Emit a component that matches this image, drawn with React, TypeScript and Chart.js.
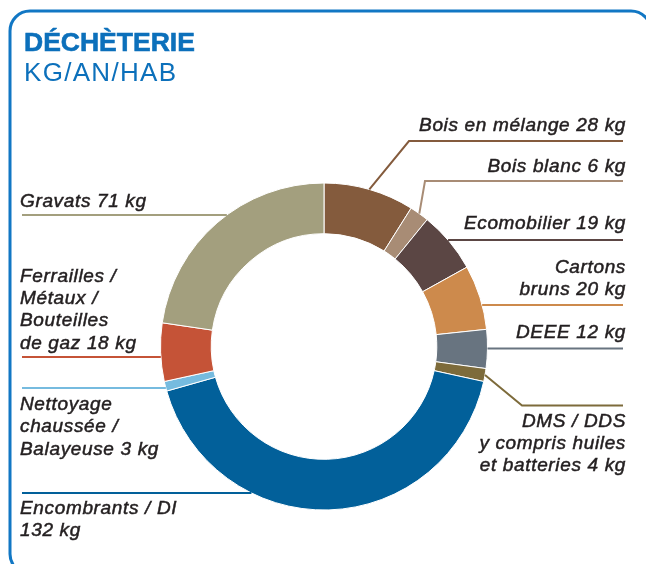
import React, { useEffect, useRef } from "react";
import { Chart, registerables } from "chart.js";

Chart.register(...registerables);

// ---------- data ----------
const categories = [
  "Bois en mélange",
  "Bois blanc",
  "Ecomobilier",
  "Cartons bruns",
  "DEEE",
  "DMS / DDS y compris huiles et batteries",
  "Encombrants / DI",
  "Nettoyage chaussée / Balayeuse",
  "Ferrailles / Métaux / Bouteilles de gaz",
  "Gravats",
];
const values = [28, 6, 19, 20, 12, 4, 132, 3, 18, 71];
const labelParts = [
  ["Bois en mélange"],
  ["Bois blanc"],
  ["Ecomobilier"],
  ["Cartons", "bruns"],
  ["DEEE"],
  ["DMS / DDS", "y compris huiles", "et batteries"],
  ["Encombrants / DI", ""],
  ["Nettoyage", "chaussée /", "Balayeuse"],
  ["Ferrailles /", "Métaux /", "Bouteilles", "de gaz"],
  ["Gravats"],
];
const unit = "kg";
const titleMain = "DÉCHÈTERIE";
const titleSub = "KG/AN/HAB";

// ---------- styles ----------
const colors = [
  "#845b3d",
  "#a88c75",
  "#5b4644",
  "#cd8a4c",
  "#687480",
  "#7d6b3b",
  "#02609a",
  "#76bbdf",
  "#c55337",
  "#a39f7e",
];
const BLUE = "#0c70bb";
const TEXT = "#231f20";

// label layout: side, first baseline, leader y, optional elbow (diagonal from slice middle)
const layout: { side: "L" | "R"; ty: number; lineY: number; elbowX?: number }[] = [
  { side: "R", ty: 130.5, lineY: 141, elbowX: 409 },
  { side: "R", ty: 171.5, lineY: 181, elbowX: 425 },
  { side: "R", ty: 229, lineY: 240 },
  { side: "R", ty: 272.5, lineY: 305 },
  { side: "R", ty: 338, lineY: 348.5 },
  { side: "R", ty: 426.5, lineY: 405.5, elbowX: 522 },
  { side: "L", ty: 513.5, lineY: 493 },
  { side: "L", ty: 410, lineY: 388 },
  { side: "L", ty: 281.5, lineY: 357 },
  { side: "L", ty: 206.5, lineY: 215 },
];

const W = 646;
const H = 564;

const decorPlugin = {
  id: "decor",
  afterDraw(chart: any) {
    const ctx = chart.ctx as CanvasRenderingContext2D;
    const meta = chart.getDatasetMeta(0);
    ctx.save();

    // frame
    ctx.strokeStyle = "#1177c4";
    ctx.lineWidth = 3;
    ctx.beginPath();
    const x0 = 10, y0 = 11, x1 = 651, y1 = 574, r = 20;
    ctx.moveTo(x0, y1 - r);
    ctx.lineTo(x0, y0 + r);
    ctx.arcTo(x0, y0, x0 + r, y0, r);
    ctx.lineTo(x1 - r, y0);
    ctx.arcTo(x1, y0, x1, y0 + r, r);
    ctx.lineTo(x1, y1 - r);
    ctx.moveTo(x0, y1 - r);
    ctx.arcTo(x0, y1, x0 + r, y1, r);
    ctx.stroke();

    // title
    ctx.fillStyle = BLUE;
    ctx.strokeStyle = BLUE;
    ctx.textAlign = "left";
    ctx.textBaseline = "alphabetic";
    (ctx as any).letterSpacing = "0px";
    ctx.font = "bold 26.5px 'Liberation Sans', Arial, sans-serif";
    ctx.lineWidth = 0.6;
    ctx.fillText(titleMain, 24, 51);
    ctx.strokeText(titleMain, 24, 51);
    (ctx as any).letterSpacing = "1.3px";
    ctx.font = "26px 'Liberation Sans', Arial, sans-serif";
    ctx.fillText(titleSub, 24, 81);

    // leader lines + labels
    meta.data.forEach((arc: any, i: number) => {
      const L = layout[i];
      const p = arc.getProps(["x", "y", "startAngle", "endAngle", "outerRadius"], true);
      const R = p.outerRadius;
      ctx.strokeStyle = colors[i];
      ctx.lineWidth = 2;
      ctx.beginPath();
      if (L.elbowX !== undefined) {
        const a = (p.startAngle + p.endAngle) / 2;
        ctx.moveTo(p.x + R * Math.cos(a), p.y + R * Math.sin(a));
        ctx.lineTo(L.elbowX, L.lineY);
      } else {
        const dy = L.lineY - p.y;
        const dx = Math.sqrt(Math.max(R * R - dy * dy, 0));
        ctx.moveTo(L.side === "R" ? p.x + dx : p.x - dx, L.lineY);
      }
      ctx.lineTo(L.side === "R" ? 623 : 22, L.lineY);
      ctx.stroke();

      const parts = labelParts[i].slice();
      const last = parts.length - 1;
      parts[last] = (parts[last] + " " + values[i] + " " + unit).trim();
      ctx.fillStyle = TEXT;
      ctx.strokeStyle = TEXT;
      ctx.lineWidth = 0.5;
      ctx.font = "italic 19px 'Liberation Sans', Arial, sans-serif";
      (ctx as any).letterSpacing = "0.65px";
      ctx.textAlign = L.side === "R" ? "right" : "left";
      const lh = L.side === "R" ? 22 : 22.4;
      parts.forEach((t, k) => {
        const tx = L.side === "R" ? 626 : 20;
        ctx.fillText(t, tx, L.ty + k * lh);
        ctx.strokeText(t, tx, L.ty + k * lh);
      });
    });
    (ctx as any).letterSpacing = "0px";
    ctx.restore();
  },
};

export default function App() {
  const ref = useRef<HTMLCanvasElement | null>(null);
  useEffect(() => {
    if (!ref.current) return;
    const chart = new Chart(ref.current, {
      type: "doughnut",
      data: {
        labels: categories,
        datasets: [
          {
            data: values,
            backgroundColor: colors,
            borderColor: "#ffffff",
            borderWidth: 1,
          },
        ],
      },
      options: {
        responsive: false,
        animation: false,
        cutout: "69%",
        layout: { padding: { left: 160, top: 182.5, right: 158, bottom: 53.5 } },
        plugins: {
          legend: { display: false },
          title: { display: false },
          tooltip: { enabled: false },
        },
      },
      plugins: [decorPlugin],
    });
    return () => chart.destroy();
  }, []);
  return (
    <div style={{ position: "fixed", left: 0, top: 0, width: W, height: H, background: "#fff" }}>
      <canvas ref={ref} width={W} height={H} style={{ width: W, height: H, display: "block" }} />
    </div>
  );
}
